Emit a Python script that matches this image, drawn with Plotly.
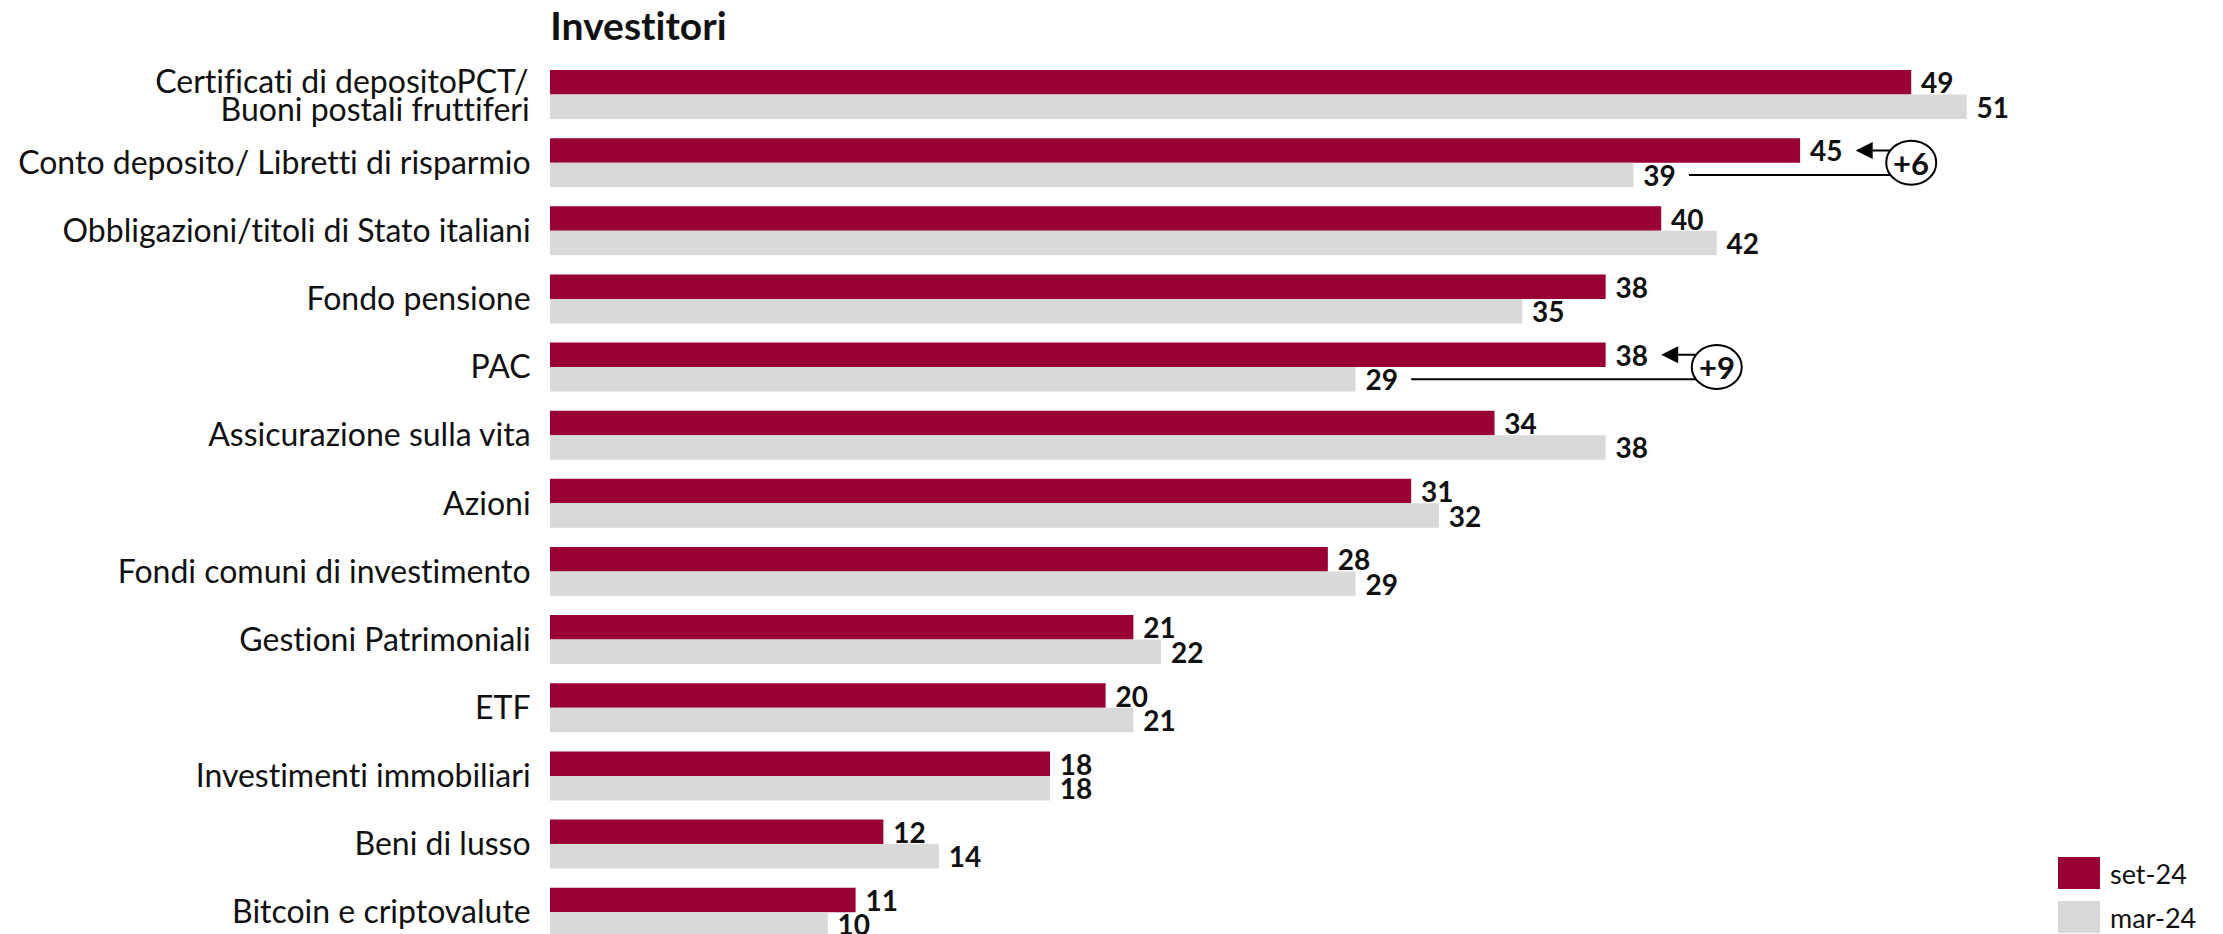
import plotly.graph_objects as go

# ── DATA ──────────────────────────────────────────────────────────
categories = [
    "Certificati di depositoPCT/<br>Buoni postali fruttiferi",
    "Conto deposito/ Libretti di risparmio",
    "Obbligazioni/titoli di Stato italiani",
    "Fondo pensione",
    "PAC",
    "Assicurazione sulla vita",
    "Azioni",
    "Fondi comuni di investimento",
    "Gestioni Patrimoniali",
    "ETF",
    "Investimenti immobiliari",
    "Beni di lusso",
    "Bitcoin e criptovalute",
]
set24 = [49, 45, 40, 38, 38, 34, 31, 28, 21, 20, 18, 12, 11]
mar24 = [51, 39, 42, 35, 29, 38, 32, 29, 22, 21, 18, 14, 10]
series_names = ["set-24", "mar-24"]
highlighted = ["Conto deposito/ Libretti di risparmio", "PAC"]
title_text = "Investitori"

RED = "#990033"
GREY = "#D9D9D9"
FONT = "Lato"

# ── GEOMETRY (pixels in a 2223x934 page) ──────────────────────────
W, H = 2223, 934
L, R, T, B = 550, 0, 50, 0
PX_PER_UNIT = 27.78
PX_PER_CAT = 68.14
FIRST_CENTER = 94.5
BARGAP = 0.281

plot_w = W - L - R
plot_h = H - T - B
x_max = plot_w / PX_PER_UNIT
y_top = -(FIRST_CENTER - T) / PX_PER_CAT
y_bot = y_top + plot_h / PX_PER_CAT
half = (1 - BARGAP) / 4  # offset of each bar's centre from category centre


def px_x(px):
    return (px - L) / plot_w


def px_y(py):
    return (H - B - py) / plot_h


# tick labels: the two-line one is drawn as two annotations (tighter leading)
tick_text = [c if "<br>" not in c else "" for c in categories]

fig = go.Figure()

for name, vals, col in [(series_names[0], set24, RED), (series_names[1], mar24, GREY)]:
    fig.add_trace(go.Bar(
        y=list(range(len(categories))),
        x=vals,
        name=name,
        orientation="h",
        marker=dict(color=col, line=dict(width=0)),
        text=["\u00a0" + str(v) for v in vals],
        textposition="outside",
        constraintext="none",
        cliponaxis=True,
        textfont=dict(family=FONT, size=28, color="#111111", weight="bold"),
        showlegend=False,
    ))

shapes = []
annotations = []

for i, c in enumerate(categories):
    if "<br>" in c:
        lines = c.split("<br>")
        for k, ln in enumerate(lines):
            off = (k - (len(lines) - 1) / 2) * 29
            annotations.append(dict(
                x=px_x(531), y=px_y(FIRST_CENTER + i * PX_PER_CAT + off),
                xref="paper", yref="paper", xanchor="right", yanchor="middle",
                text=ln, showarrow=False,
                font=dict(family=FONT, size=32, color="#111111"),
            ))

# ── CHANGE CALLOUTS ───────────────────────────────────────────────
for cat in highlighted:
    i = categories.index(cat)
    r, g = set24[i], mar24[i]
    cx = r + 4
    shapes.append(dict(
        type="line", xref="x", yref="y",
        x0=g + 2, x1=cx, y0=i + half, y1=i + half,
        line=dict(color="black", width=2),
    ))
    shapes.append(dict(
        type="circle", xref="x", yref="y",
        xsizemode="pixel", ysizemode="pixel",
        xanchor=cx, yanchor=i,
        x0=-25, x1=25, y0=-22, y1=22,
        line=dict(color="black", width=2),
        fillcolor="white",
    ))
    annotations.append(dict(
        x=r + 2, y=i - half, xref="x", yref="y",
        ax=cx - 0.72, ay=i - half, axref="x", ayref="y",
        text="", showarrow=True,
        arrowhead=2, arrowsize=1.7, arrowwidth=2, arrowcolor="black",
    ))
    annotations.append(dict(
        x=cx, y=i, xref="x", yref="y",
        text="<b>+%d</b>" % (r - g), showarrow=False,
        font=dict(family=FONT, size=31, color="#111111"),
    ))

# ── TITLE ─────────────────────────────────────────────────────────
annotations.append(dict(
    x=px_x(548), y=px_y(25), xref="paper", yref="paper",
    xanchor="left", yanchor="middle",
    text="<b>" + title_text + "</b>", showarrow=False,
    font=dict(family=FONT, size=39, color="#111111"),
))

# ── CUSTOM LEGEND ─────────────────────────────────────────────────
for k, (name, col) in enumerate([(series_names[0], RED), (series_names[1], GREY)]):
    top = 857 + k * 44
    shapes.append(dict(
        type="rect", xref="paper", yref="paper",
        x0=px_x(2058), x1=px_x(2100), y0=px_y(top + 32), y1=px_y(top),
        line=dict(width=0), fillcolor=col,
    ))
    annotations.append(dict(
        x=px_x(2108), y=px_y(top + 16), xref="paper", yref="paper",
        xanchor="left", yanchor="middle",
        text=name, showarrow=False,
        font=dict(family=FONT, size=27, color="#111111"),
    ))

fig.update_layout(
    width=W, height=H,
    barmode="group",
    bargap=BARGAP,
    bargroupgap=0,
    plot_bgcolor="white",
    paper_bgcolor="white",
    font=dict(family=FONT, size=32, color="#111111"),
    margin=dict(l=L, r=R, t=T, b=B, pad=0),
    shapes=shapes,
    annotations=annotations,
    xaxis=dict(
        range=[0, x_max],
        visible=False,
        showgrid=False,
        zeroline=False,
        fixedrange=True,
    ),
    yaxis=dict(
        range=[y_bot, y_top],
        tickmode="array",
        tickvals=list(range(len(categories))),
        ticktext=tick_text,
        showgrid=False,
        zeroline=False,
        showline=False,
        ticks="outside",
        ticklen=12,
        tickcolor="rgba(0,0,0,0)",
        tickfont=dict(family=FONT, size=32, color="#111111"),
        fixedrange=True,
    ),
)

# no body margin, no ligatures (the reference draws "fi", "ti" as separate glyphs)
post = (
    "document.body.style.margin='0';"
    "var s=document.createElement('style');"
    "s.innerHTML='text{font-variant-ligatures:none;font-feature-settings:\"liga\" 0;}';"
    "document.head.appendChild(s);"
)
fig.write_html("out.html", post_script=post, config={"displayModeBar": False})
